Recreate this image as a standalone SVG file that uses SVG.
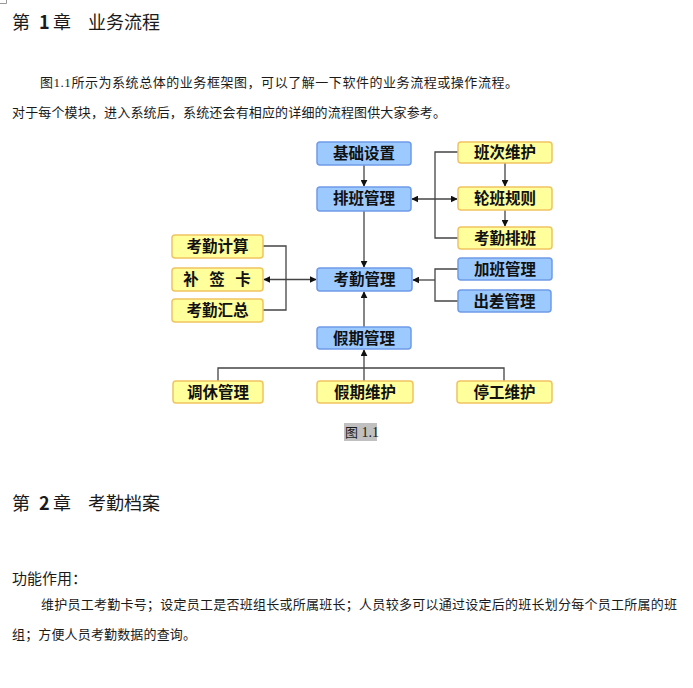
<svg xmlns="http://www.w3.org/2000/svg" width="693" height="688" viewBox="0 0 693 688">
<style>
.body{font-family:"Noto Sans CJK SC","Noto Sans",sans-serif;fill:#1a1a1a}
.h{font-size:18px}
.p{font-size:13px}
.ser{font-family:"Liberation Serif","Noto Sans CJK SC",serif}
.blue rect{fill:#9ccaff;stroke:#6f9be8;stroke-width:1.5}
.yel rect{fill:#ffff9c;stroke:#f0c460;stroke-width:1.5}
.lbl{font-family:"Noto Sans CJK SC",sans-serif;font-size:15.5px;font-weight:bold;fill:#111;text-anchor:middle}
.con path,.con line{stroke:#444;stroke-width:1.3;fill:none}
</style>
<defs>
<marker id="ah" viewBox="0 0 10 10" refX="9" refY="5" markerWidth="7" markerHeight="7" orient="auto-start-reverse" markerUnits="userSpaceOnUse">
<path d="M0,0 L10,5 L0,10 z" fill="#111"/>
</marker>
</defs>
<rect width="693" height="688" fill="#fff"/>
<path d="M0,3.5 H6.5 V0" stroke="#999" fill="none" stroke-width="1"/>

<text class="body h" x="12" y="29">第<tspan x="39" font-weight="bold">1</tspan><tspan x="53">章</tspan><tspan x="88">业务流程</tspan></text>
<text class="body p" x="40" y="87" textLength="478" lengthAdjust="spacing">图<tspan class="ser">1.1</tspan>所示为系统总体的业务框架图，可以了解一下软件的业务流程或操作流程。</text>
<text class="body p" x="12" y="117" textLength="434" lengthAdjust="spacing">对于每个模块，进入系统后，系统还会有相应的详细的流程图供大家参考。</text>

<g class="con">
<line x1="364" y1="165" x2="364" y2="186" marker-end="url(#ah)"/>
<line x1="364" y1="211" x2="364" y2="267" marker-end="url(#ah)"/>
<line x1="364" y1="368" x2="364" y2="350" marker-end="url(#ah)"/>
<line x1="364" y1="327" x2="364" y2="292" marker-end="url(#ah)"/>
<path d="M218,381 V368 H504 V381"/>
<line x1="364" y1="368" x2="364" y2="381"/>
<path d="M263,246 H286 V310 H263"/>
<line x1="264" y1="279.5" x2="316" y2="279.5" marker-start="url(#ah)" marker-end="url(#ah)"/>
<path d="M458,152 H435 V238 H458"/>
<line x1="412" y1="199" x2="457" y2="199" marker-start="url(#ah)" marker-end="url(#ah)"/>
<line x1="505" y1="163" x2="505" y2="186" marker-end="url(#ah)"/>
<line x1="505" y1="210" x2="505" y2="226" marker-end="url(#ah)"/>
<path d="M458,269 H435 V301 H458"/>
<line x1="435" y1="280" x2="413" y2="280" marker-end="url(#ah)"/>
</g>

<g id="n-jichu" class="blue"><rect x="317" y="142" width="94" height="23" rx="3"/><text class="lbl" x="364" y="159">基础设置</text></g>
<g id="n-paiban" class="blue"><rect x="317" y="187" width="94" height="24" rx="3"/><text class="lbl" x="364" y="204">排班管理</text></g>
<g id="n-kaoqin" class="blue"><rect x="317" y="268" width="95" height="23" rx="3"/><text class="lbl" x="364.5" y="285">考勤管理</text></g>
<g id="n-jiaqi" class="blue"><rect x="317" y="327" width="94" height="22" rx="3"/><text class="lbl" x="364" y="344">假期管理</text></g>
<g id="n-jiaban" class="blue"><rect x="458" y="258" width="94" height="22" rx="3"/><text class="lbl" x="505" y="275">加班管理</text></g>
<g id="n-chuchai" class="blue"><rect x="458" y="290" width="93" height="22" rx="3"/><text class="lbl" x="504.5" y="307">出差管理</text></g>

<g id="n-banci" class="yel"><rect x="458" y="142" width="94" height="21" rx="3"/><text class="lbl" x="505" y="158">班次维护</text></g>
<g id="n-lunban" class="yel"><rect x="458" y="187" width="94" height="23" rx="3"/><text class="lbl" x="505" y="204">轮班规则</text></g>
<g id="n-kqpaiban" class="yel"><rect x="458" y="227" width="94" height="22" rx="3"/><text class="lbl" x="505" y="244">考勤排班</text></g>
<g id="n-jisuan" class="yel"><rect x="172" y="235" width="91" height="23" rx="3"/><text class="lbl" x="217.5" y="252">考勤计算</text></g>
<g id="n-buqian" class="yel"><rect x="172" y="268" width="91" height="23" rx="3"/><text class="lbl" x="191" y="285">补<tspan x="217">签</tspan><tspan x="243">卡</tspan></text></g>
<g id="n-huizong" class="yel"><rect x="172" y="299" width="91" height="23" rx="3"/><text class="lbl" x="217.5" y="316">考勤汇总</text></g>
<g id="n-tiaoxiu" class="yel"><rect x="173" y="381" width="90" height="22" rx="3"/><text class="lbl" x="218" y="398">调休管理</text></g>
<g id="n-jqweihu" class="yel"><rect x="317" y="381" width="96" height="22" rx="3"/><text class="lbl" x="365" y="398">假期维护</text></g>
<g id="n-tinggong" class="yel"><rect x="457" y="381" width="95" height="22" rx="3"/><text class="lbl" x="504.5" y="398">停工维护</text></g>

<rect x="344" y="423" width="33" height="18" fill="#c0c0c0"/>
<text class="body p" x="345" y="437">图<tspan class="ser" font-size="14"> 1.1</tspan></text>

<text class="body h" x="12" y="510">第<tspan x="39" font-weight="bold">2</tspan><tspan x="53">章</tspan><tspan x="88">考勤档案</tspan></text>
<text class="body" font-size="15" x="12" y="584">功能作用：</text>
<text class="body p" x="41" y="609" textLength="636" lengthAdjust="spacing">维护员工考勤卡号；设定员工是否班组长或所属班长；人员较多可以通过设定后的班长划分每个员工所属的班</text>
<text class="body p" x="12" y="639" textLength="184" lengthAdjust="spacing">组；方便人员考勤数据的查询。</text>
</svg>
